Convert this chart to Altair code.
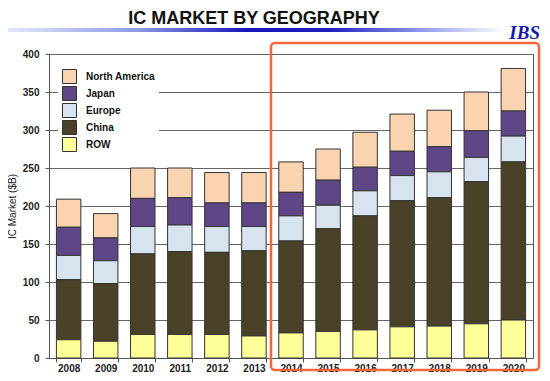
import altair as alt
import pandas as pd

years = ["2008", "2009", "2010", "2011", "2012", "2013", "2014",
         "2015", "2016", "2017", "2018", "2019", "2020"]
regions = ["North America", "Japan", "Europe", "China", "ROW"]
colors = ["#FAD3B0", "#5E4687", "#D8E3F0", "#4A4228", "#FFFF99"]

row_vals = [24, 22, 31, 31, 31, 29, 33, 35, 37, 41, 42, 45, 50]
china_vals = [79, 76, 106, 109, 108, 112, 121, 135, 150, 166, 169, 187, 208]
europe_vals = [32, 30, 36, 35, 34, 32, 33, 31, 33, 33, 34, 32, 34]
japan_vals = [37, 30, 37, 36, 31, 31, 31, 33, 31, 32, 33, 35, 33]
na_vals = [37, 32, 40, 39, 40, 40, 40, 41, 46, 49, 48, 51, 56]

series = {
    "North America": na_vals,
    "Japan": japan_vals,
    "Europe": europe_vals,
    "China": china_vals,
    "ROW": row_vals,
}
stack_pos = {"ROW": 0, "China": 1, "Europe": 2, "Japan": 3, "North America": 4}

rows = []
for reg, vals in series.items():
    for y, v in zip(years, vals):
        rows.append({"Year": y, "Region": reg, "Value": v, "o": stack_pos[reg]})
df = pd.DataFrame(rows)

title_text = "IC MARKET BY GEOGRAPHY"
y_title = "IC Market ($B)"
y_ticks = [0, 50, 100, 150, 200, 250, 300, 350, 400]

bars = alt.Chart(df).mark_bar(stroke="#333333", strokeWidth=1).encode(
    x=alt.X("Year:N", sort=years, title=None,
            scale=alt.Scale(paddingInner=0.34, paddingOuter=0.2),
            axis=alt.Axis(labelAngle=0, labelFontSize=10, labelFontWeight="bold",
                          labelColor="#222", tickBand="extent", tickSize=4,
                          tickColor="#555", domainColor="#555", labelPadding=1,
                          labelFont="Liberation Sans")),
    y=alt.Y("Value:Q", stack="zero", title=y_title,
            scale=alt.Scale(domain=[0, 400], nice=False),
            axis=alt.Axis(values=y_ticks, labelFontSize=10, labelFontWeight="bold",
                          labelColor="#222", tickSize=4, tickColor="#555",
                          domainColor="#555", gridColor="#666", gridWidth=1,
                          labelPadding=6, titleFontSize=10, titleFontWeight="normal",
                          titleColor="#222", titlePadding=5, labelFont="Liberation Sans",
                          titleFont="Liberation Sans")),
    color=alt.Color("Region:N", sort=regions,
                    scale=alt.Scale(domain=regions, range=colors),
                    legend=alt.Legend(title=None, orient="none", legendX=9, legendY=11,
                                      fillColor="white", padding=4,
                                      symbolType="square", symbolSize=196,
                                      symbolStrokeColor="#333", symbolStrokeWidth=1,
                                      symbolOpacity=1, clipHeight=15,
                                      labelFontSize=10, labelFontWeight="bold",
                                      labelColor="#111", labelOffset=9,
                                      rowPadding=2, labelFont="Liberation Sans")),
    order=alt.Order("o:Q", sort="ascending"),
)

grad = alt.Chart(pd.DataFrame({"a": [0]})).mark_rect(
    fill=alt.LinearGradient(
        gradient="linear", x1=0, x2=1, y1=0, y2=0,
        stops=[alt.GradientStop(color="#E8ECFA", offset=0),
               alt.GradientStop(color="#8C9AE8", offset=0.25),
               alt.GradientStop(color="#1515B8", offset=0.45),
               alt.GradientStop(color="#2020C0", offset=0.6),
               alt.GradientStop(color="#9AA4EE", offset=0.78),
               alt.GradientStop(color="#FFFFFF", offset=0.92)]),
).encode(x=alt.value(-49), x2=alt.value(501), y=alt.value(-26), y2=alt.value(-22))

title = alt.Chart(pd.DataFrame({"t": [title_text]})).mark_text(
    fontSize=18, fontWeight="bold", font="Liberation Sans", color="#111",
    align="center", baseline="middle"
).encode(text="t:N", x=alt.value(205), y=alt.value(-35))

ibs = alt.Chart(pd.DataFrame({"t": ["IBS"]})).mark_text(
    fontSize=19, fontWeight="bold", fontStyle="italic", font="Liberation Serif",
    color="#1a1aa8", align="right", baseline="alphabetic"
).encode(text="t:N", x=alt.value(491), y=alt.value(-15))

frame = alt.Chart(pd.DataFrame({"a": [0]})).mark_rect(
    fill=None, fillOpacity=0, stroke="#F0683A", strokeWidth=2.5, cornerRadius=4
).encode(x=alt.value(222), x2=alt.value(490), y=alt.value(-11), y2=alt.value(316))

chart = alt.layer(bars, grad, title, ibs, frame).properties(
    width=484, height=304,
    autosize=alt.AutoSizeParams(type="none"),
    padding={"left": 41, "top": 46, "right": 9, "bottom": 15},
    background="white",
).configure_view(stroke="#555", strokeWidth=1)

chart.save("out.html", embed_options={"renderer": "svg", "actions": False})
